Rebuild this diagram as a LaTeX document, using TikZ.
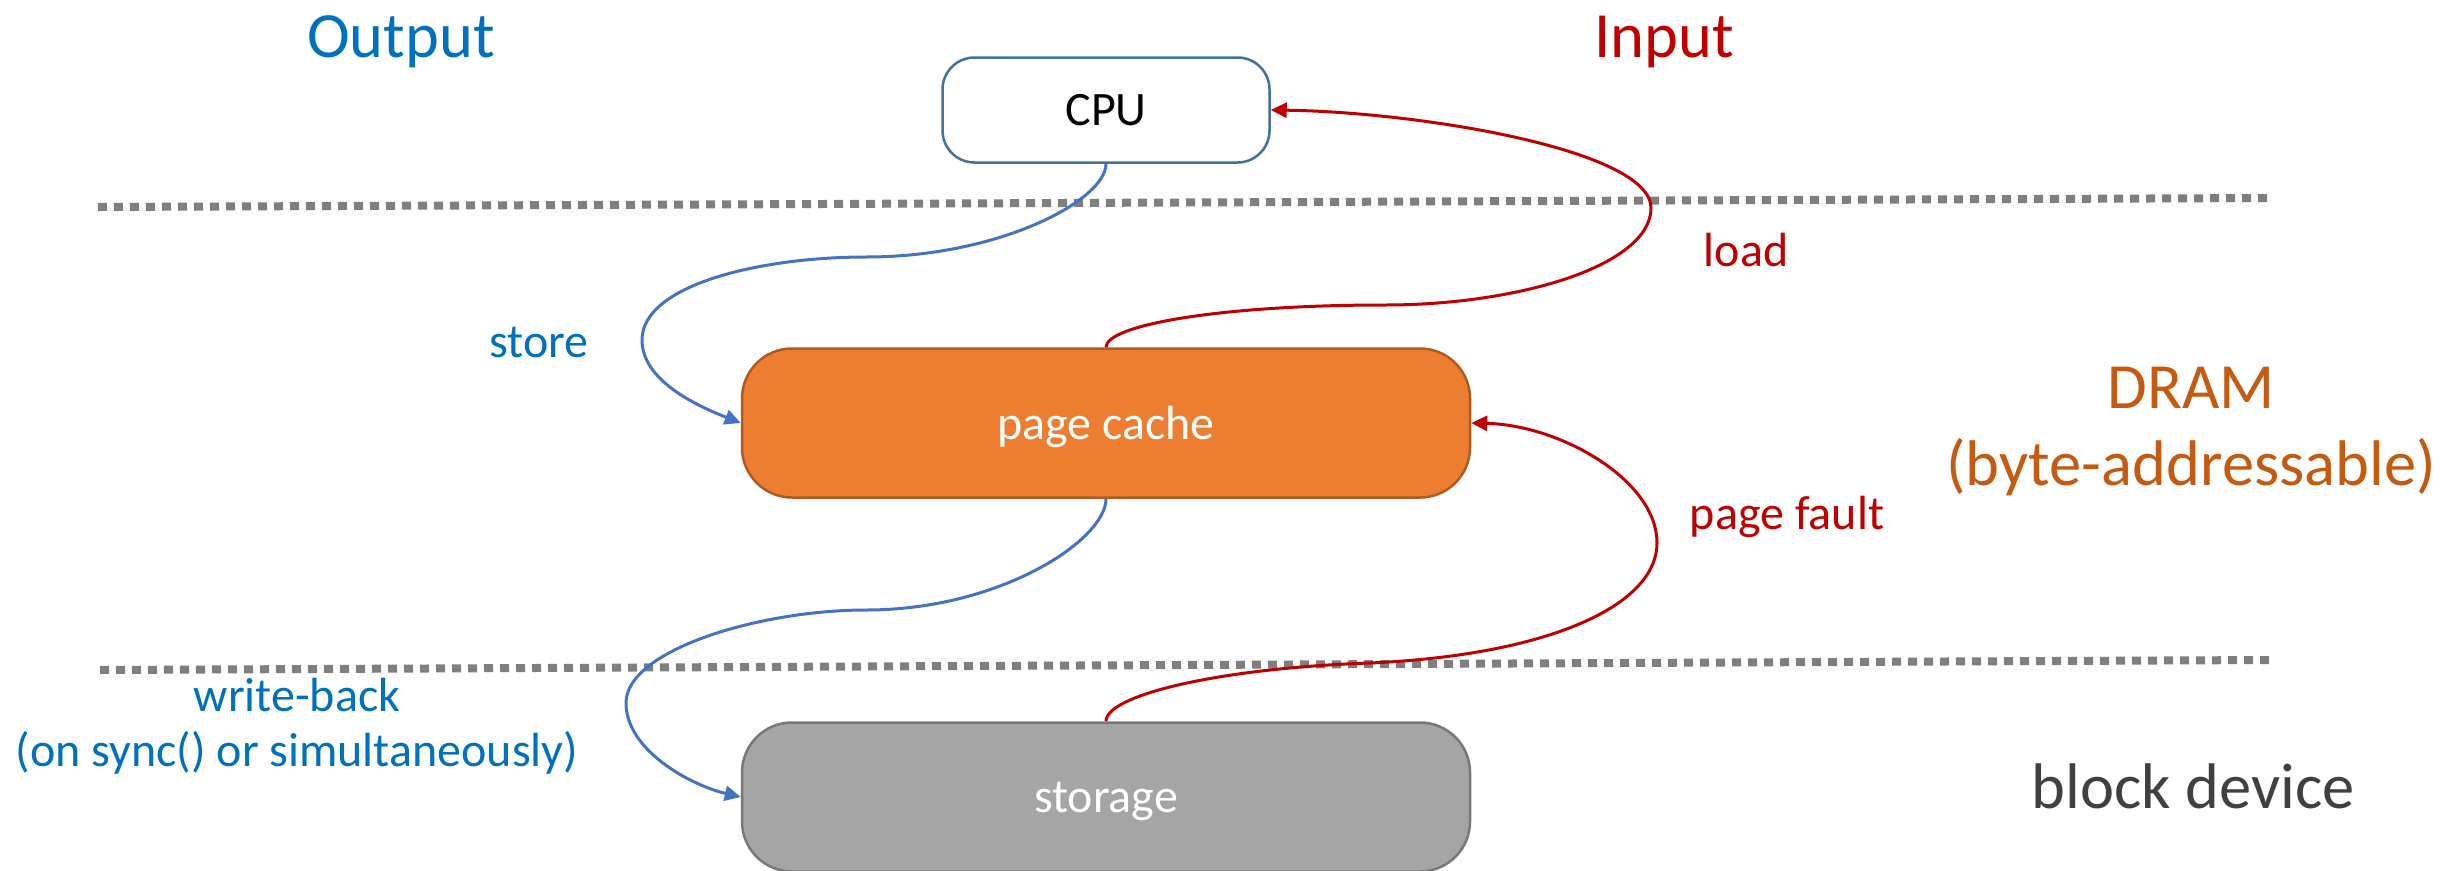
\documentclass[tikz,border=0pt]{standalone}
\usepackage{fontspec}
\setmainfont{Carlito}
\usetikzlibrary{arrows.meta}
\definecolor{outblue}{HTML}{0070C0}
\definecolor{curveblue}{HTML}{4472C4}
\definecolor{inred}{HTML}{C00000}
\definecolor{orfill}{HTML}{ED7D31}
\definecolor{ordraw}{HTML}{AE5A21}
\definecolor{grfill}{HTML}{A5A5A5}
\definecolor{grdraw}{HTML}{787878}
\definecolor{cpudraw}{HTML}{41719C}
\definecolor{dramtext}{HTML}{C55A11}
\definecolor{devtext}{HTML}{404040}
\definecolor{dotgray}{HTML}{7F7F7F}
\tikzset{
  big/.style={font=\fontsize{64.5}{77}\selectfont, align=center, inner sep=0pt},
  lbl/.style={font=\fontsize{48}{56}\selectfont, align=center, inner sep=0pt},
  boxnode/.style={font=\fontsize{48}{56}\selectfont, inner sep=0pt, text depth=0pt, line width=2.5pt},
  cpubox/.style={boxnode, draw=cpudraw, fill=white, rounded corners=32pt, minimum width=327pt, minimum height=105pt},
  membox/.style={boxnode, rounded corners=50pt, minimum width=728pt, minimum height=149pt, text=white},
  sep/.style={draw=dotgray, line width=8pt, dash pattern=on 9pt off 7pt},
  bluearrow/.style={draw=curveblue, line width=3pt, -{Triangle[length=16pt,width=15pt]}},
  redarrow/.style={draw=inred, line width=3pt, -{Triangle[length=16pt,width=15pt]}},
}
\begin{document}
\begin{tikzpicture}[x=1pt,y=-1pt]
\useasboundingbox (0,0) rectangle (2440,870);

% separators
\coordinate (s1a) at (98,207);
\coordinate (s1b) at (2270,198);
\coordinate (s2a) at (100,670);
\coordinate (s2b) at (2270,660);
\draw[sep] (s1a) -- (s1b);
\draw[sep] (s2a) -- (s2b);

% boxes
\node[cpubox] (cpu) at (1106,110) {CPU};
\node[membox, fill=orfill, draw=ordraw] (page) at (1106,423) {page cache};
\node[membox, fill=grfill, draw=grdraw] (stor) at (1106,797) {storage};

% texts
\node[big, text=outblue, anchor=base] (out) at (401,57) {Output};
\node[big, text=inred, anchor=base] (in) at (1664,57) {Input};
\node[lbl, text=outblue, anchor=base] (store) at (539,357) {store};
\node[lbl, text=inred, anchor=base] (load) at (1746,266) {load};
\node[lbl, text=inred, anchor=base] (pf) at (1787,529) {page fault};
\node[lbl, text=outblue, anchor=base] (wb1) at (297,711) {write-back};
\node[lbl, text=outblue, anchor=base] (wb2) at (297,766) {(on sync() or simultaneously)};
\node[big, text=dramtext, anchor=base] (dram1) at (2191,408) {DRAM};
\node[big, text=dramtext, anchor=base] (dram2) at (2191,485) {(byte-addressable)};
\node[big, text=devtext, anchor=base] (dev) at (2193,808) {block device};

% store
\draw[bluearrow] (cpu.south) .. controls (1106,200) and (1000,257) .. (866,257)
  .. controls (760,257) and (642,285) .. (642,340)
  .. controls (642,380) and (695,405) .. (page.west);
% load
\draw[redarrow] (page.north) .. controls (1106,325) and (1220,305) .. (1385,305)
  .. controls (1520,305) and (1651,265) .. (1651,208)
  .. controls (1651,150) and (1420,112) .. (cpu.east);
% write-back
\draw[bluearrow] (page.south) .. controls (1106,540) and (1000,610) .. (866,610)
  .. controls (760,610) and (626,650) .. (626,703)
  .. controls (626,750) and (690,785) .. (stor.west);
% page fault
\draw[redarrow] (stor.north) .. controls (1106,695) and (1220,668) .. (1370,663)
  .. controls (1550,655) and (1657,605) .. (1657,543)
  .. controls (1657,480) and (1560,425) .. (page.east);
\end{tikzpicture}
\end{document}
